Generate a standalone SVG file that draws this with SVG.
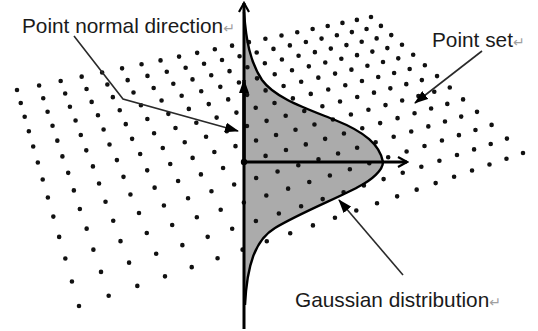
<svg xmlns="http://www.w3.org/2000/svg" width="538" height="331" viewBox="0 0 538 331">
<defs>
<style>
.dot{fill:none;stroke:#111;stroke-width:4.6;stroke-linecap:round}
.ra{stroke-dasharray:0 62.49 0 60.88 0 59.31 0 57.81 0 56.36 0 54.98 0 53.63 0 52.34 0 51.10 0 49.90 0 48.73 0 47.62 0 46.53 0 45.49 0 44.48 0 43.50 0 42.56 0 41.64 0 40.75 0 39.90 0 2000}
.rb{stroke-dasharray:0 63.49 0 61.71 0 60.01 0 58.37 0 56.80 0 55.30 0 53.85 0 52.46 0 51.12 0 49.84 0 48.59 0 47.40 0 46.26 0 45.14 0 44.07 0 43.05 0 42.04 0 41.09 0 40.15 0 39.26 0 2000}
.rc{stroke-dasharray:0 64.66 0 62.69 0 60.81 0 59.02 0 57.31 0 55.66 0 54.10 0 52.58 0 51.14 0 49.76 0 48.43 0 47.15 0 45.92 0 44.74 0 43.61 0 42.51 0 41.46 0 40.45 0 39.47 0 38.53 0 2000}
.rd{stroke-dasharray:0 65.80 0 63.64 0 61.60 0 59.64 0 57.79 0 56.01 0 54.32 0 52.69 0 51.16 0 49.67 0 48.26 0 46.90 0 45.59 0 44.35 0 43.16 0 42.01 0 40.90 0 39.84 0 38.82 0 37.85 0 2000}
.re{stroke-dasharray:0 66.85 0 64.51 0 62.31 0 60.21 0 58.21 0 56.32 0 54.51 0 52.79 0 51.16 0 49.59 0 48.09 0 46.67 0 45.30 0 44.00 0 42.75 0 41.55 0 40.40 0 39.30 0 38.25 0 37.23 0 2000}
.lbl{font-family:"Liberation Sans",Arial,sans-serif;font-size:20.8px;fill:#1a1a1a}
.ret{font-family:"DejaVu Sans",sans-serif;font-size:14px;fill:#a0a0a0}
.lead{fill:none;stroke:#2a2a2a;stroke-width:1.6}
.axis{fill:none;stroke:#000;stroke-width:3}
</style>
<marker id="ah" viewBox="0 0 14 10" refX="13" refY="5" markerWidth="14" markerHeight="10" orient="auto" markerUnits="userSpaceOnUse">
<path d="M0,0 L14,5 L0,10 z" fill="#000"/>
</marker>
<marker id="ax" viewBox="0 0 12 12" refX="10" refY="6" markerWidth="12" markerHeight="12" orient="auto" markerUnits="userSpaceOnUse">
<path d="M1,1 L10,6 L1,11" fill="none" stroke="#000" stroke-width="2.2"/>
</marker>
</defs>
<rect width="538" height="331" fill="#fff"/>
<g id="gaussian-fill">
<path d="M244,12 C246,40 250,62 262,80 C275,98 305,108 335,120 C365,132 380,145 383,162 C383,170 372,180 358,187 C340,197 300,213 275,228 C255,240 247,265 245,305 Z" fill="#ababab"/>
</g>
<g id="point-set">
<path class="dot ra" pathLength="1010" d="M17,90 L374.54,16.27"/>
<path class="dot ra" pathLength="1010" d="M20.75,103.07 L384.52,25.11"/>
<path class="dot ra" pathLength="1010" d="M24.69,116.80 L394.92,34.30"/>
<path class="dot rb" pathLength="1010" d="M28.84,131.26 L405.72,43.86"/>
<path class="dot rb" pathLength="1010" d="M33.21,146.49 L416.99,53.83"/>
<path class="dot rb" pathLength="1010" d="M37.83,162.56 L428.73,64.23"/>
<path class="dot rc" pathLength="1010" d="M42.70,179.56 L440.99,75.07"/>
<path class="dot rc" pathLength="1010" d="M47.87,197.54 L453.79,86.38"/>
<path class="dot rc" pathLength="1010" d="M53.34,216.62 L467.18,98.22"/>
<path class="dot rd" pathLength="1010" d="M59.16,236.88 L481.19,110.60"/>
<path class="dot rd" pathLength="1010" d="M65.34,258.44 L495.86,123.57"/>
<path class="dot re" pathLength="1010" d="M71.94,281.43 L511.26,137.18"/>
<path class="dot re" pathLength="1010" d="M79,306 L527.44,151.47"/>
</g>
<g id="gaussian">
<path d="M244,12 C246,40 250,62 262,80 C275,98 305,108 335,120 C365,132 380,145 383,162 C383,170 372,180 358,187 C340,197 300,213 275,228 C255,240 247,265 245,305" fill="none" stroke="#000" stroke-width="2.4"/>
</g>
<g id="axes">
<line class="axis" x1="244" y1="329" x2="244" y2="3" marker-end="url(#ax)"/>
<line class="axis" x1="244" y1="162" x2="407" y2="162" stroke-width="2.6" marker-end="url(#ax)"/>
<line x1="244" y1="162" x2="244" y2="80" stroke="#000" stroke-width="3.4" marker-end="url(#ah)"/>
<circle cx="244" cy="162" r="3.2" fill="#000"/>
</g>
<g id="connectors">
<polyline class="lead" points="74,36 123,99 238,131" marker-end="url(#ah)"/>
<line class="lead" x1="482" y1="51" x2="415" y2="103" marker-end="url(#ah)"/>
<line class="lead" x1="403" y1="275" x2="339" y2="200" marker-end="url(#ah)"/>
</g>
<g id="label-normal">
<text class="lbl" x="22" y="33">Point normal direction<tspan class="ret">↵</tspan></text>
</g>
<g id="label-pointset">
<text class="lbl" x="432" y="47">Point set<tspan class="ret">↵</tspan></text>
</g>
<g id="label-gaussian">
<text class="lbl" x="295" y="307">Gaussian distribution<tspan class="ret">↵</tspan></text>
</g>
</svg>
